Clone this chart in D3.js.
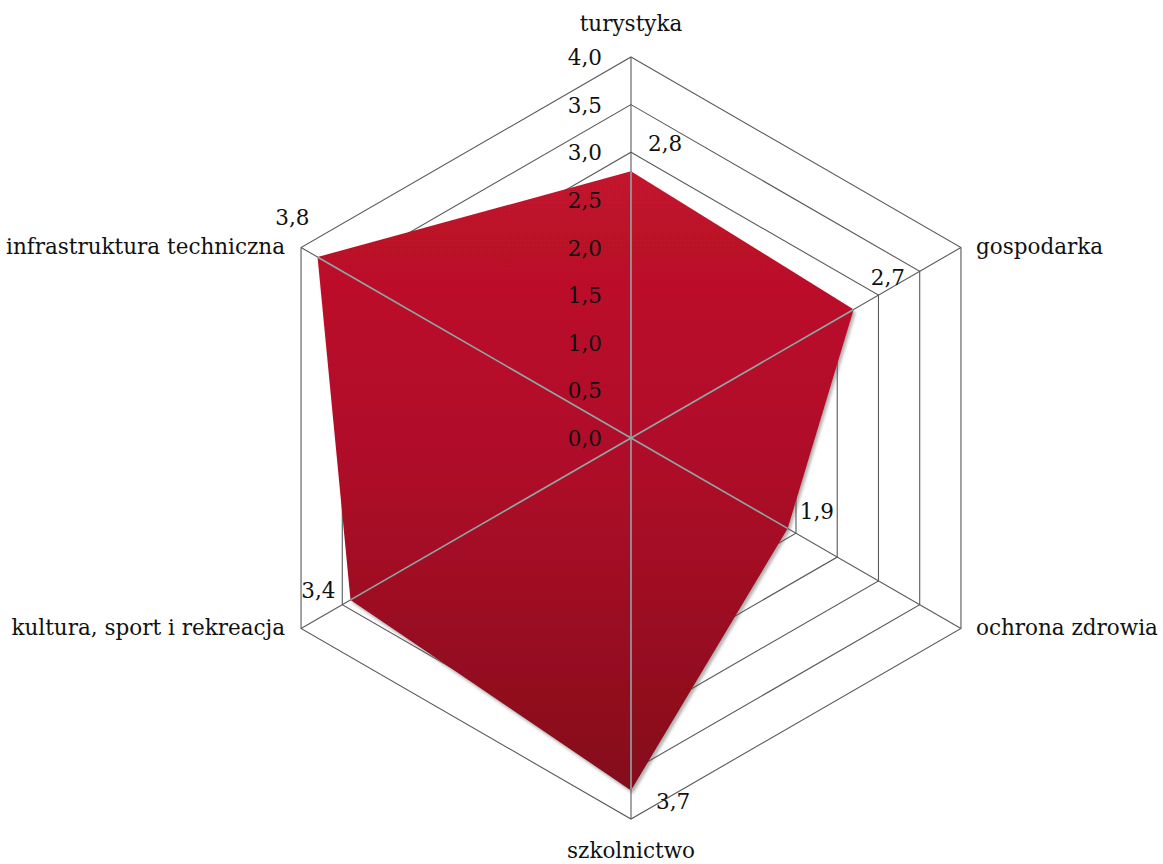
<!DOCTYPE html>
<html>
<head>
    <meta charset="utf-8">
    <script src="https://d3js.org/d3.v7.min.js" charset="utf-8"></script>
    <style>
        body { margin: 0; background: #fff; }
        text { font-family: "DejaVu Serif", "Liberation Serif", serif; fill: #111; }
    </style>
</head>
<body>
    <div id="chart_container"></div>
    <script>
        // data
        var categories = ['turystyka', 'gospodarka', 'ochrona zdrowia', 'szkolnictwo',
            'kultura, sport i rekreacja', 'infrastruktura techniczna'];
        var values = [2.8, 2.7, 1.9, 3.7, 3.4, 3.8];
        var ticks = [0, 0.5, 1, 1.5, 2, 2.5, 3, 3.5, 4];

        // label nudges (dx, dy, anchor) for the value labels, per axis
        var valueLabelOffsets = [[17, -20, 'start'], [17, -24, 'start'], [12, -9, 'start'],
            [25, 19, 'start'], [-15, -2, 'end'], [-8, -32, 'end']];

        var width = 1163,
            height = 864,
            cx = 631,
            cy = 438,
            radius = 381,
            fontSize = 21.5;

        var fmt = function (v) { return d3.format('.1f')(v).replace('.', ','); };

        var r = d3.scaleLinear().domain([0, 4]).range([0, radius]);
        var angle = d3.scalePoint().domain(d3.range(categories.length + 1))
            .range([0, 2 * Math.PI]);

        function pt(i, v) {
            var a = angle(i);
            return [cx + r(v) * Math.sin(a), cy - r(v) * Math.cos(a)];
        }

        var svg = d3.select('#chart_container').append('svg')
            .attr('width', width)
            .attr('height', height);

        var defs = svg.append('defs');
        var grad = defs.append('linearGradient')
            .attr('id', 'redFill')
            .attr('gradientUnits', 'userSpaceOnUse')
            .attr('x1', 0).attr('y1', pt(0, values[0])[1])
            .attr('x2', 0).attr('y2', pt(3, values[3])[1]);
        grad.append('stop').attr('offset', 0).attr('stop-color', '#c3122d');
        grad.append('stop').attr('offset', 0.5).attr('stop-color', '#ad0f28');
        grad.append('stop').attr('offset', 1).attr('stop-color', '#84091a');

        var shadow = defs.append('filter').attr('id', 'shadow')
            .attr('x', '-10%').attr('y', '-10%').attr('width', '120%').attr('height', '120%');
        shadow.append('feDropShadow')
            .attr('dx', 2).attr('dy', 3).attr('stdDeviation', 1.5)
            .attr('flood-color', '#555').attr('flood-opacity', 0.45);

        var line = d3.line().curve(d3.curveLinearClosed);
        var idx = d3.range(categories.length);

        // rings
        svg.append('g').selectAll('path')
            .data(ticks.filter(function (t) { return t > 0; }))
            .enter().append('path')
            .attr('d', function (t) { return line(idx.map(function (i) { return pt(i, t); })); })
            .attr('fill', 'none')
            .attr('stroke', '#5a5a5a')
            .attr('stroke-width', 1.1);

        // spokes
        svg.append('g').selectAll('line')
            .data(idx)
            .enter().append('line')
            .attr('x1', cx).attr('y1', cy)
            .attr('x2', function (i) { return pt(i, 4)[0]; })
            .attr('y2', function (i) { return pt(i, 4)[1]; })
            .attr('stroke', '#5a5a5a')
            .attr('stroke-width', 1.1);

        // area
        var areaD = line(idx.map(function (i) { return pt(i, values[i]); }));
        svg.append('path')
            .attr('d', areaD)
            .attr('fill', 'url(#redFill)')
            .attr('filter', 'url(#shadow)');

        defs.append('clipPath').attr('id', 'areaClip')
            .append('path').attr('d', areaD);

        // spokes on top of the area
        svg.append('g').attr('clip-path', 'url(#areaClip)').selectAll('line')
            .data(idx)
            .enter().append('line')
            .attr('x1', cx).attr('y1', cy)
            .attr('x2', function (i) { return pt(i, 4)[0]; })
            .attr('y2', function (i) { return pt(i, 4)[1]; })
            .attr('stroke', '#8fa7a6')
            .attr('stroke-width', 1.6);

        // tick labels
        svg.append('g').selectAll('text')
            .data(ticks)
            .enter().append('text')
            .attr('x', cx - 29)
            .attr('y', function (t) { return cy - r(t) + 8; })
            .attr('text-anchor', 'end')
            .attr('font-size', fontSize)
            .text(fmt);

        // value labels
        svg.append('g').selectAll('text')
            .data(idx)
            .enter().append('text')
            .attr('x', function (i) { return pt(i, values[i])[0] + valueLabelOffsets[i][0]; })
            .attr('y', function (i) { return pt(i, values[i])[1] + valueLabelOffsets[i][1]; })
            .attr('text-anchor', function (i) { return valueLabelOffsets[i][2]; })
            .attr('font-size', fontSize)
            .text(function (i) { return fmt(values[i]); });

        // category labels
        svg.append('g').selectAll('text')
            .data(idx)
            .enter().append('text')
            .attr('x', function (i) {
                var p = pt(i, 4);
                if (i === 0 || i === 3) return p[0];
                return i < 3 ? p[0] + 15 : p[0] - 16;
            })
            .attr('y', function (i) {
                var p = pt(i, 4);
                if (i === 0) return p[1] - 26;
                if (i === 3) return p[1] + 39;
                return p[1] + 6;
            })
            .attr('text-anchor', function (i) {
                if (i === 0 || i === 3) return 'middle';
                return i < 3 ? 'start' : 'end';
            })
            .attr('font-size', fontSize)
            .text(function (i) { return categories[i]; });
    </script>
</body>
</html>
